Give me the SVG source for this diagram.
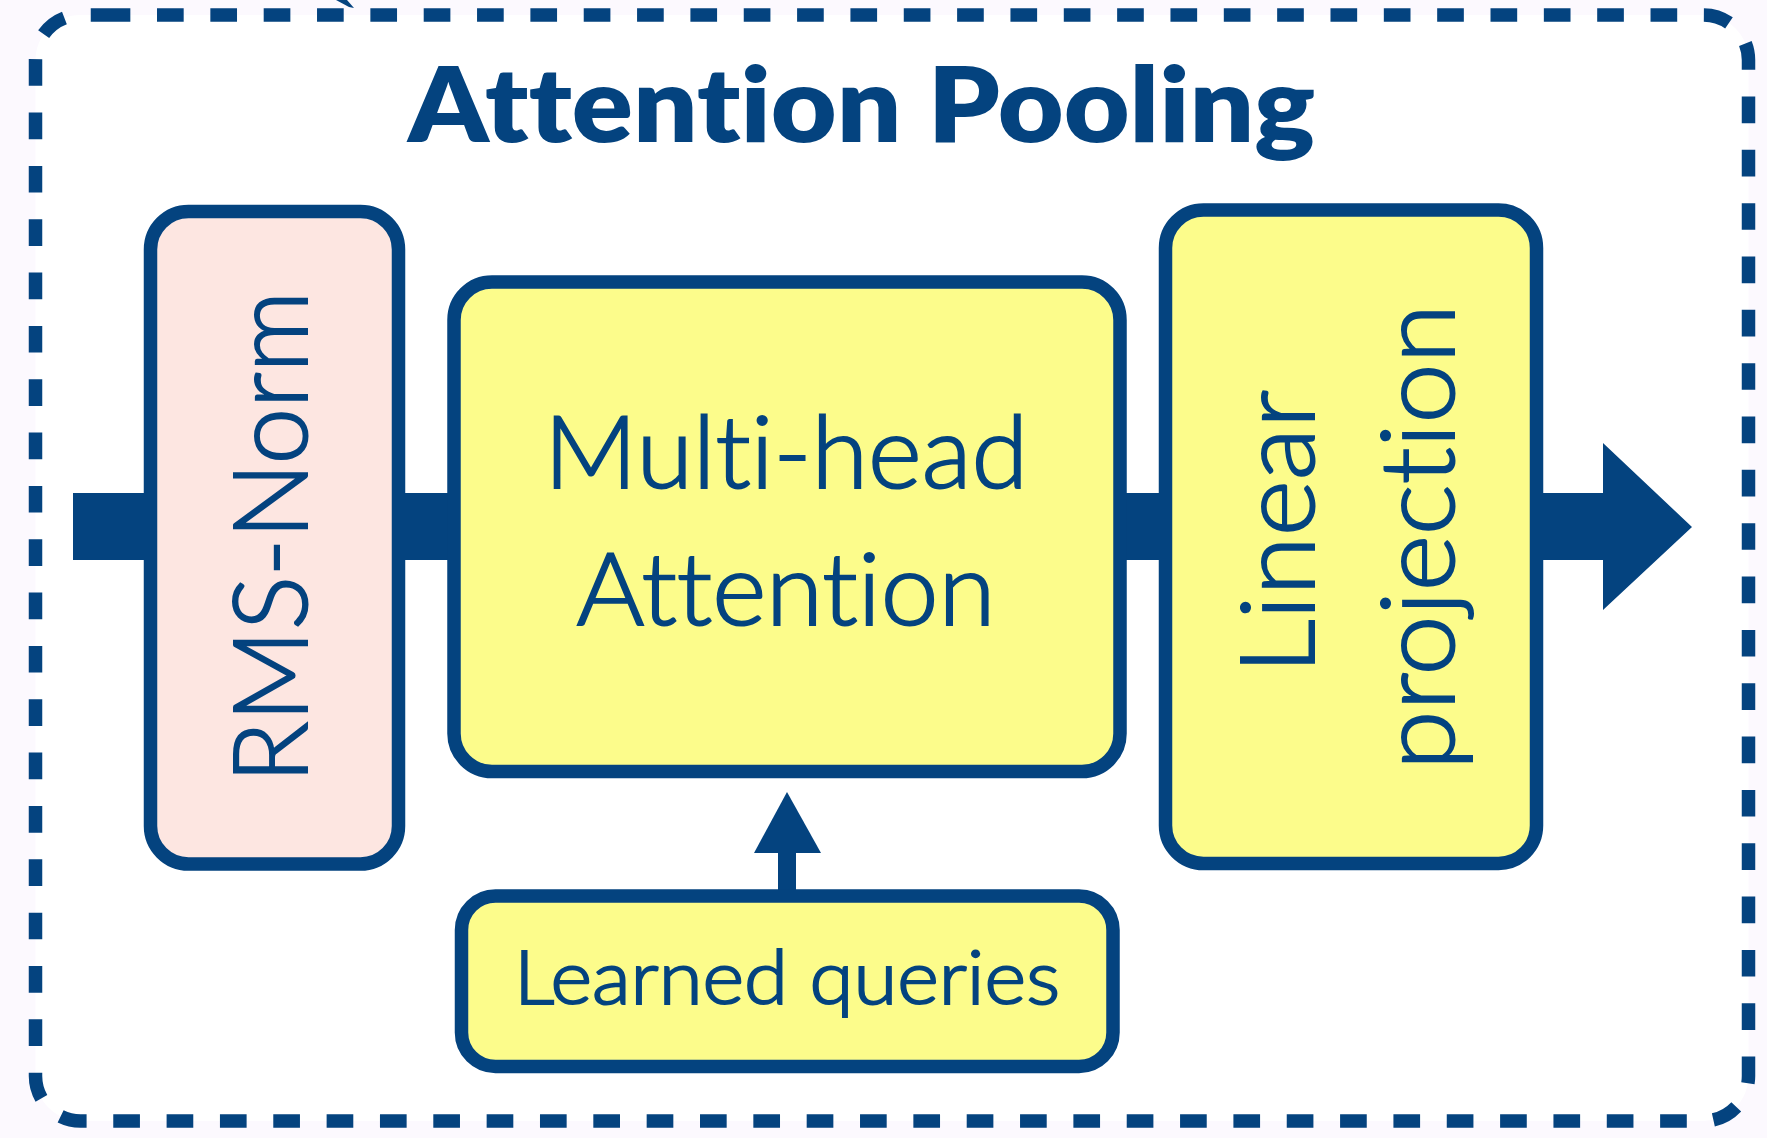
<svg xmlns="http://www.w3.org/2000/svg" width="1767" height="1138" viewBox="0 0 1767 1138">
  <style>
    .box { stroke: #04437f; stroke-width: 13.5; }
    .yellow { fill: #fcfc8b; }
    .pink { fill: #fde6e1; }
    .lbl { font-family: Lato, "Noto Sans", "Liberation Sans", sans-serif; font-weight: 300; fill: #04437f; stroke: #04437f; stroke-width: 2; text-anchor: middle; font-variant-ligatures: none; font-feature-settings: "liga" 0, "clig" 0; }
    .ttl { font-weight: 800; stroke: none; }
    .conn { fill: #04437f; stroke: none; }
  </style>
  <rect x="0" y="0" width="1767" height="1138" fill="#fcf9fe"/>
  <g id="frame">
    <path d="M103.67,15 H1703.5 A45,45 0 0 1 1748.5,60 V1076 A45,45 0 0 1 1703.5,1121 H80.5 A45,45 0 0 1 35.5,1076 V60 A45,45 0 0 1 80.5,15 Z" fill="#ffffff" stroke="#04437f" stroke-width="13.5" stroke-dasharray="26.67 26.67"/>
    <polygon points="336,0 347,0 354,8 349,7" fill="#04437f"/>
  </g>
  <g id="title">
    <text x="861.5" y="142" class="lbl ttl" font-size="104" textLength="907" lengthAdjust="spacingAndGlyphs">Attention Pooling</text>
  </g>
  <g id="connectors">
    <rect class="conn" x="73" y="493" width="80" height="67"/>
    <rect class="conn" x="396" y="493" width="60" height="67"/>
    <rect class="conn" x="1118" y="493" width="50" height="67"/>
    <polygon class="conn" points="1534,493 1603,493 1603,443 1692,527 1603,610 1603,560 1534,560"/>
    <rect class="conn" x="778" y="850" width="18" height="48"/>
    <polygon class="conn" points="754,853 787,792 821,853"/>
  </g>
  <g id="rms-norm">
    <rect class="box pink" x="150.5" y="211.5" width="248" height="652.5" rx="38" ry="38"/>
    <text class="lbl" font-size="102" transform="translate(306.5,537) rotate(-90)" textLength="492" lengthAdjust="spacingAndGlyphs">RMS-Norm</text>
  </g>
  <g id="multi-head-attention">
    <rect class="box yellow" x="454" y="282" width="666" height="489.5" rx="38" ry="38"/>
    <text class="lbl" font-size="100" x="786" y="488" textLength="484" lengthAdjust="spacingAndGlyphs">Multi-head</text>
    <text class="lbl" font-size="100" x="786" y="625" textLength="419" lengthAdjust="spacingAndGlyphs">Attention</text>
  </g>
  <g id="linear-projection">
    <rect class="box yellow" x="1165.5" y="210" width="371" height="653.5" rx="38" ry="38"/>
    <text class="lbl" font-size="102" transform="translate(1314,532) rotate(-90)" textLength="284" lengthAdjust="spacingAndGlyphs">Linear</text>
    <text class="lbl" font-size="102" transform="translate(1454,537) rotate(-90)" textLength="466" lengthAdjust="spacingAndGlyphs">projection</text>
  </g>
  <g id="learned-queries">
    <rect class="box yellow" x="461.5" y="896" width="651.5" height="170.5" rx="34" ry="34"/>
    <text class="lbl" font-size="74" x="787" y="1004" textLength="546" lengthAdjust="spacingAndGlyphs">Learned queries</text>
  </g>
</svg>
